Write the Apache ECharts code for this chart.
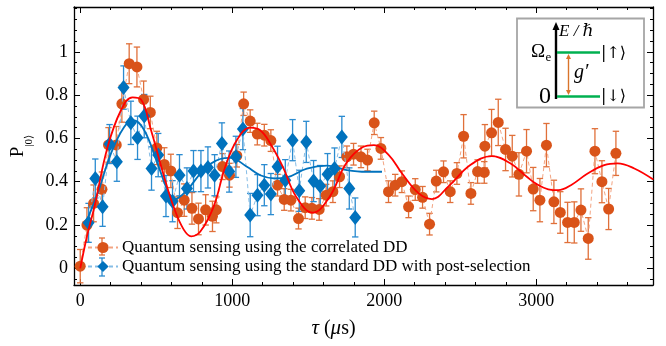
<!DOCTYPE html>
<html>
<head>
<meta charset="utf-8">
<script src="https://cdn.jsdelivr.net/npm/echarts@6/dist/echarts.min.js"></script>
<style>
  html, body { margin: 0; padding: 0; background: #fff; }
  #chart { width: 666px; height: 346px; }
</style>
</head>
<body>
<div id="chart"></div>
<script>
// correlated DD (orange circles)
var tauOrange = [0, 44, 88, 143, 186, 237, 274, 322, 373, 417, 461, 504, 553, 596, 640, 684, 735, 778, 825, 870,
    895, 936, 982, 1030, 1075, 1118, 1165, 1211, 1254, 1298, 1342, 1386, 1436, 1480, 1524, 1572, 1618, 1662, 1706, 1754,
    1798, 1847, 1890, 1934, 1978, 2028, 2072, 2116, 2160, 2204, 2252, 2298, 2342, 2390, 2434, 2478, 2522, 2570, 2614, 2658,
    2662, 2706, 2750, 2798, 2842, 2886, 2936, 2980, 3024, 3067, 3116, 3158, 3206, 3250, 3294, 3342, 3386, 3432, 3476, 3524];
var pOrange = [0.01, 0.20, 0.30, 0.365, 0.57, 0.57, 0.76, 0.945, 0.93, 0.78, 0.72, 0.556, 0.48, 0.45, 0.257, 0.315, 0.277, 0.228, 0.27, 0.24,
    0.27, 0.47, 0.43, 0.52, 0.76, 0.68, 0.62, 0.615, 0.59, 0.384, 0.318, 0.315, 0.23, 0.28, 0.277, 0.272, 0.338, 0.354, 0.423, 0.515,
    0.527, 0.515, 0.50, 0.672, 0.554, 0.354, 0.384, 0.40, 0.284, 0.364, 0.328, 0.204, 0.403, 0.446, 0.354, 0.438, 0.61, 0.346, 0.447, 0.443,
    0.564, 0.626, 0.674, 0.549, 0.518, 0.434, 0.541, 0.366, 0.315, 0.569, 0.307, 0.258, 0.212, 0.212, 0.269, 0.138, 0.541, 0.40, 0.274, 0.531];
var errOrange = [0.077, 0.08, 0.085, 0.08, 0.08, 0.085, 0.085, 0.092, 0.092, 0.085, 0.075, 0.077, 0.077, 0.077, 0.073, 0.075, 0.073, 0.073, 0.07, 0.07,
    0.06, 0.06, 0.055, 0.052, 0.054, 0.052, 0.05, 0.05, 0.05, 0.05, 0.05, 0.05, 0.048, 0.05, 0.05, 0.05, 0.05, 0.05, 0.05, 0.05,
    0.05, 0.05, 0.05, 0.054, 0.05, 0.05, 0.05, 0.05, 0.05, 0.05, 0.05, 0.05, 0.05, 0.05, 0.05, 0.05, 0.1, 0.05, 0.054, 0.05,
    0.1, 0.108, 0.107, 0.098, 0.096, 0.1, 0.1, 0.1, 0.1, 0.1, 0.1, 0.096, 0.093, 0.095, 0.098, 0.096, 0.104, 0.097, 0.095, 0.102];

// standard DD with post-selection (blue diamonds)
var tauBlue = [55, 99, 147, 193, 241, 285, 333, 377, 421, 469, 513, 564, 607, 653, 702, 745, 794, 840, 884, 932,
    980, 1024, 1070, 1118, 1166, 1211, 1254, 1298, 1349, 1397, 1441, 1487, 1535, 1579, 1627, 1673, 1721, 1770, 1809];
var pBlue = [0.21, 0.415, 0.284, 0.574, 0.492, 0.835, 0.672, 0.603, 0.703, 0.461, 0.523, 0.334, 0.31, 0.43, 0.369, 0.449, 0.449, 0.466, 0.43, 0.577,
    0.447, 0.515, 0.643, 0.246, 0.338, 0.384, 0.343, 0.469, 0.407, 0.592, 0.358, 0.584, 0.403, 0.38, 0.435, 0.461, 0.607, 0.369, 0.235];
var errBlue = [0.09, 0.09, 0.09, 0.09, 0.09, 0.1, 0.1, 0.1, 0.1, 0.1, 0.1, 0.095, 0.095, 0.095, 0.095, 0.095, 0.095, 0.095, 0.095, 0.095,
    0.095, 0.095, 0.095, 0.1, 0.095, 0.095, 0.095, 0.095, 0.095, 0.095, 0.095, 0.095, 0.095, 0.095, 0.095, 0.095, 0.095, 0.095, 0.09];

// fitted curves
var tauFitRed = [0, 48, 92, 180, 268, 344, 400, 465, 553, 618, 680, 730, 790, 877, 954, 1030, 1118, 1184, 1250, 1333,
    1421, 1530, 1640, 1750, 1860, 1932, 2030, 2117, 2227, 2314, 2424, 2566, 2708, 2829, 2938, 3000, 3079, 3145, 3228, 3338,
    3447, 3535, 3645, 3770];
var pFitRed = [0, 0.16, 0.28, 0.56, 0.73, 0.79, 0.78, 0.64, 0.42, 0.277, 0.18, 0.148, 0.17, 0.284, 0.469, 0.592, 0.65, 0.638, 0.577, 0.469,
    0.33, 0.257, 0.33, 0.485, 0.56, 0.569, 0.523, 0.438, 0.346, 0.32, 0.38, 0.477, 0.518, 0.485, 0.423, 0.39, 0.365, 0.361, 0.384, 0.438,
    0.477, 0.485, 0.461, 0.41];
var tauFitBlue = [37, 114, 202, 289, 350, 421, 508, 574, 616, 702, 811, 921, 987, 1097, 1184, 1280, 1360, 1491, 1623, 1754,
    1880, 1985];
var pFitBlue = [0.21, 0.346, 0.53, 0.653, 0.684, 0.638, 0.485, 0.361, 0.318, 0.361, 0.454, 0.505, 0.51, 0.469, 0.43, 0.415, 0.42, 0.46, 0.474, 0.454,
    0.446, 0.446];

var xTicks = [0, 1000, 2000, 3000];
var xMinorTicks = [200, 400, 600, 800, 1200, 1400, 1600, 1800, 2200, 2400, 2600, 2800, 3200, 3400, 3600];
var yTicks = [0, 0.2, 0.4, 0.6, 0.8, 1];
var yMinorTicks = [-0.05, 0.05, 0.1, 0.15, 0.25, 0.3, 0.35, 0.45, 0.5, 0.55, 0.65, 0.7, 0.75, 0.85, 0.9, 0.95, 1.05, 1.1, 1.15, 1.2];

var nameOrange = 'Quantum sensing using the correlated DD';
var nameBlue = 'Quantum sensing using the standard DD with post-selection';

var serif = "'Liberation Serif', 'DejaVu Serif', serif";
var xMin = -41, xMax = 3768, yMin = -0.077, yMax = 1.207;

function zip(a, b, c) {
    var out = [];
    for (var i = 0; i < a.length; i++)
        out.push(c ? [a[i], b[i], c[i]] : [a[i], b[i]]);
    return out;
}

function errorBars(color) {
    return function (params, api) {
        var x = api.value(0), y = api.value(1), e = api.value(2);
        var hi = api.coord([x, y + e]), lo = api.coord([x, y - e]);
        var w = 3.2;
        var style = { stroke: color, lineWidth: 1.3 };
        return {
            type: 'group',
            children: [
                { type: 'line', shape: { x1: hi[0], y1: hi[1], x2: lo[0], y2: lo[1] }, style: style },
                { type: 'line', shape: { x1: hi[0] - w, y1: hi[1], x2: hi[0] + w, y2: hi[1] }, style: style },
                { type: 'line', shape: { x1: lo[0] - w, y1: lo[1], x2: lo[0] + w, y2: lo[1] }, style: style }
            ]
        };
    };
}

function xAxisDef(pos, ticks, len, withLabels, withLine) {
    return {
        type: 'value', position: pos, min: xMin, max: xMax,
        splitLine: { show: false },
        axisLine: { show: withLine, onZero: false, lineStyle: { color: '#000', width: 1.3 } },
        axisTick: { show: true, inside: true, length: len, customValues: ticks, lineStyle: { color: '#000', width: 1 } },
        axisLabel: {
            show: withLabels, customValues: ticks, color: '#000', fontFamily: serif, fontSize: 18, margin: 7,
            formatter: function (v) { return String(v); }
        }
    };
}

function yAxisDef(pos, ticks, len, withLabels, withLine) {
    return {
        type: 'value', position: pos, min: yMin, max: yMax,
        splitLine: { show: false },
        axisLine: { show: withLine, onZero: false, lineStyle: { color: '#000', width: 1.3 } },
        axisTick: { show: true, inside: true, length: len, customValues: ticks, lineStyle: { color: '#000', width: 1 } },
        axisLabel: { show: withLabels, customValues: ticks, color: '#000', fontFamily: serif, fontSize: 18, margin: 6 }
    };
}

var xAxes = [
    xAxisDef('bottom', xTicks, 6, true, true),
    xAxisDef('bottom', xMinorTicks, 3, false, false),
    xAxisDef('top', xTicks, 6, false, true),
    xAxisDef('top', xMinorTicks, 3, false, false)
];
xAxes[0].name = '{i|τ} ({i|μ}s)';
xAxes[0].nameLocation = 'middle';
xAxes[0].nameGap = 33;
xAxes[0].nameTextStyle = {
    color: '#000', fontFamily: serif, fontSize: 20, padding: [0, 60, 0, 0],
    rich: { i: { fontStyle: 'italic', fontFamily: serif, fontSize: 21, color: '#000' } }
};

var yAxes = [
    yAxisDef('left', yTicks, 6, true, true),
    yAxisDef('left', yMinorTicks, 3, false, false),
    yAxisDef('right', yTicks, 6, false, true),
    yAxisDef('right', yMinorTicks, 3, false, false)
];
yAxes[0].name = '{p|P}{s||0⟩}';
yAxes[0].nameLocation = 'middle';
yAxes[0].nameRotate = 90;
yAxes[0].nameGap = 33;
yAxes[0].nameTextStyle = {
    rich: {
        p: { fontFamily: serif, fontSize: 19, color: '#000', lineHeight: 34, verticalAlign: 'middle' },
        s: { fontFamily: serif, fontSize: 11, color: '#000', lineHeight: 34, verticalAlign: 'bottom' }
    }
};

var chart = echarts.init(document.getElementById('chart'));

chart.setOption({
    animation: false,
    backgroundColor: '#fff',
    grid: { left: 74, right: 13, top: 7, bottom: 61, containLabel: false },
    xAxis: xAxes,
    yAxis: yAxes,
    legend: {
        orient: 'vertical', left: 87, top: 239, itemGap: 2, padding: 0,
        itemWidth: 30, itemHeight: 14,
        textStyle: { fontFamily: serif, fontSize: 17, color: '#000', padding: [0, 0, 0, -1] },
        data: [nameOrange, nameBlue]
    },
    graphic: [
        // legend error bars
        { type: 'line', shape: { x1: 102, y1: 238, x2: 102, y2: 255 }, style: { stroke: '#e0703a', lineWidth: 1.3 } },
        { type: 'line', shape: { x1: 99, y1: 238, x2: 105, y2: 238 }, style: { stroke: '#e0703a', lineWidth: 1.3 } },
        { type: 'line', shape: { x1: 99, y1: 255, x2: 105, y2: 255 }, style: { stroke: '#e0703a', lineWidth: 1.3 } },
        { type: 'line', shape: { x1: 102, y1: 258, x2: 102, y2: 276 }, style: { stroke: '#2a8bd0', lineWidth: 1.3 } },
        { type: 'line', shape: { x1: 99, y1: 258, x2: 105, y2: 258 }, style: { stroke: '#2a8bd0', lineWidth: 1.3 } },
        { type: 'line', shape: { x1: 99, y1: 276, x2: 105, y2: 276 }, style: { stroke: '#2a8bd0', lineWidth: 1.3 } },
        // inset: energy levels
        { type: 'rect', shape: { x: 517, y: 18.5, width: 127, height: 89 }, style: { fill: '#fff', stroke: '#a6a6a6', lineWidth: 1.8 }, z: 50 },
        { type: 'line', shape: { x1: 556, y1: 99, x2: 556, y2: 29 }, style: { stroke: '#000', lineWidth: 2.4 }, z: 51 },
        { type: 'polygon', shape: { points: [[552.5, 30], [556, 22], [559.5, 30]] }, style: { fill: '#000' }, z: 51 },
        { type: 'line', shape: { x1: 557, y1: 52.5, x2: 600, y2: 52.5 }, style: { stroke: '#00b050', lineWidth: 2.6 }, z: 51 },
        { type: 'line', shape: { x1: 557, y1: 96.5, x2: 600, y2: 96.5 }, style: { stroke: '#00b050', lineWidth: 2.6 }, z: 51 },
        { type: 'line', shape: { x1: 568.5, y1: 57, x2: 568.5, y2: 92 }, style: { stroke: '#d9742b', lineWidth: 1.4 }, z: 51 },
        { type: 'polygon', shape: { points: [[566, 59], [568.5, 54], [571, 59]] }, style: { fill: '#d9742b' }, z: 51 },
        { type: 'polygon', shape: { points: [[566, 90], [568.5, 95], [571, 90]] }, style: { fill: '#d9742b' }, z: 51 },
        { type: 'text', x: 559, y: 32, style: { text: 'E / ℏ', font: 'italic 17px ' + serif, fill: '#000', verticalAlign: 'middle' }, z: 52 },
        { type: 'text', x: 545, y: 52, style: { text: 'Ω', font: '19px ' + serif, fill: '#000', align: 'right', verticalAlign: 'middle' }, z: 52 },
        { type: 'text', x: 545.5, y: 58, style: { text: 'e', font: '13px ' + serif, fill: '#000', align: 'left', verticalAlign: 'middle' }, z: 52 },
        { type: 'text', x: 551, y: 97, style: { text: '0', font: '24px ' + serif, fill: '#000', align: 'right', verticalAlign: 'middle' }, z: 52 },
        { type: 'text', x: 574, y: 73, style: { text: 'g′', font: 'italic 20px ' + serif, fill: '#000', verticalAlign: 'middle' }, z: 52 },
        { type: 'text', x: 601, y: 54, style: { text: '|↑⟩', font: '16px ' + "'DejaVu Serif', serif", fill: '#000', verticalAlign: 'middle' }, z: 52 },
        { type: 'text', x: 601, y: 97, style: { text: '|↓⟩', font: '16px ' + "'DejaVu Serif', serif", fill: '#000', verticalAlign: 'middle' }, z: 52 }
    ],
    series: [
        {
            name: 'err-orange', type: 'custom', renderItem: errorBars('#e0703a'),
            data: zip(tauOrange, pOrange, errOrange), z: 2, silent: true,
            encode: { x: 0, y: 1 }
        },
        {
            name: 'err-blue', type: 'custom', renderItem: errorBars('#2a8bd0'),
            data: zip(tauBlue, pBlue, errBlue), z: 2, silent: true,
            encode: { x: 0, y: 1 }
        },
        {
            name: nameOrange, type: 'line', data: zip(tauOrange, pOrange),
            symbol: 'circle', symbolSize: 11, z: 3,
            itemStyle: { color: '#d95319' },
            lineStyle: { color: '#f3a482', width: 1, type: [4, 3] }
        },
        {
            name: nameBlue, type: 'line', data: zip(tauBlue, pBlue),
            symbol: 'diamond', symbolSize: [12, 15], z: 4,
            itemStyle: { color: '#0072bd' },
            lineStyle: { color: '#86bde6', width: 1, type: [4, 3] }
        },
        {
            name: 'fit-blue', type: 'line', data: zip(tauFitBlue, pFitBlue),
            smooth: 0.4, showSymbol: false, symbol: 'none', z: 5,
            lineStyle: { color: '#0072bd', width: 1.8 }
        },
        {
            name: 'fit-red', type: 'line', data: zip(tauFitRed, pFitRed),
            smooth: 0.4, showSymbol: false, symbol: 'none', z: 6,
            lineStyle: { color: '#ff0000', width: 1.8 }
        }
    ]
});
</script>
</body>
</html>
